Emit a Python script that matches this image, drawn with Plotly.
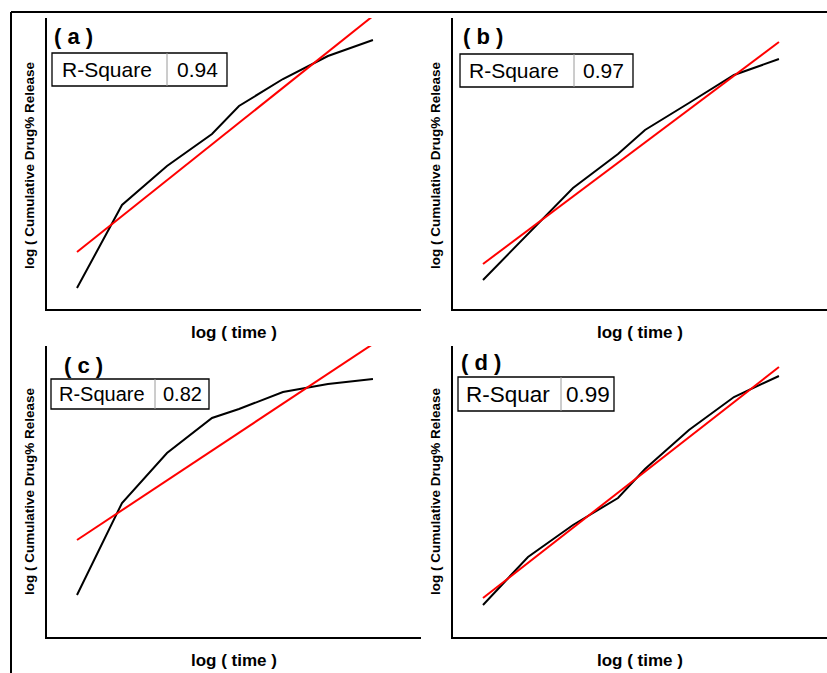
import plotly.graph_objects as go

# ---------------- data (arbitrary log units) ----------------
log_time = [0.0, 0.30, 0.60, 0.90, 1.08, 1.373, 1.673, 1.973]

release_a = [0.21, 1.04, 1.43, 1.75, 2.03, 2.30, 2.53, 2.69]
release_b = [0.29, 0.75, 1.21, 1.55, 1.79, 2.06, 2.34, 2.50]
release_c = [0.42, 1.34, 1.84, 2.19, 2.28, 2.45, 2.53, 2.58]
release_d = [0.32, 0.80, 1.12, 1.39, 1.68, 2.07, 2.40, 2.61]

fit_x = [0.0, 1.973]
fit_a = [0.57, 2.93]
fit_b = [0.45, 2.67]
fit_c = [0.97, 2.93]
fit_d = [0.39, 2.70]

panel_labels = ["( a )", "( b )", "( c )", "( d )"]
r2_names = ["R-Square", "R-Square", "R-Square", "R-Squar"]
r2_values = ["0.94", "0.97", "0.82", "0.99"]

x_title = "log ( time )"
y_title = "log ( Cumulative Drug% Release"

# ---------------- layout helpers ----------------
W, H = 827, 673


def px(x):
    return x / W


def py(y):
    return 1 - y / H


FONT = "Liberation Sans, Arial, sans-serif"

fig = go.Figure()

series = [release_a, release_b, release_c, release_d]
fits = [fit_a, fit_b, fit_c, fit_d]

# panel geometry in pixels: (left, right, top, bottom)
panels = [(47, 421, 18, 309), (453, 827, 18, 309), (47, 421, 346, 637), (453, 827, 346, 637)]

for i in range(4):
    ax = "" if i == 0 else str(i + 1)
    fig.add_trace(go.Scatter(x=log_time, y=series[i], mode="lines",
                             line=dict(color="black", width=2),
                             xaxis="x" + ax, yaxis="y" + ax, showlegend=False,
                             hoverinfo="skip"))
    fig.add_trace(go.Scatter(x=fit_x, y=fits[i], mode="lines",
                             line=dict(color="#ff0000", width=2),
                             xaxis="x" + ax, yaxis="y" + ax, showlegend=False,
                             hoverinfo="skip"))
    l, r, t, b = panels[i]
    axis_common = dict(showline=True, linecolor="black", linewidth=2,
                       showticklabels=False, ticks="", showgrid=False,
                       zeroline=False, fixedrange=True)
    fig.layout["xaxis" + ax] = go.layout.XAxis(domain=[px(l), min(px(r), 1.0)],
                                               range=[-0.2, 2.2933],
                                               anchor="y" + ax, **axis_common)
    fig.layout["yaxis" + ax] = go.layout.YAxis(domain=[py(b), py(t)],
                                               range=[0, 2.91],
                                               anchor="x" + ax, **axis_common)

annotations = []
shapes = []

# panel labels
label_pos = [(52, 36), (461, 36), (62, 366), (459, 362)]
# R-square boxes: (left, right, top, bottom, divider)
boxes = [(52, 227, 53, 86, 167), (460, 633, 54, 87, 574),
         (51, 209, 379, 409, 155), (458, 614, 377, 411, 561)]
box_font = [21, 21, 20, 22.5]
box_pad = [8, 7, 6, 6]
xt_pos = [(234, 332), (640, 332), (234, 660), (640, 660)]
yt_pos = [(29, 165), (435, 165), (29, 491), (435, 491)]

for i in range(4):
    lx, ly = label_pos[i]
    annotations.append(dict(text="<b>%s</b>" % panel_labels[i], x=px(lx), y=py(ly),
                            xref="paper", yref="paper", xanchor="left", yanchor="middle",
                            showarrow=False, font=dict(family=FONT, size=22, color="black")))
    bl, br, bt, bb, bd = boxes[i]
    shapes.append(dict(type="rect", xref="paper", yref="paper",
                       x0=px(bl), x1=px(br), y0=py(bb), y1=py(bt),
                       line=dict(color="black", width=1.3), fillcolor="white"))
    shapes.append(dict(type="line", xref="paper", yref="paper",
                       x0=px(bd), x1=px(bd), y0=py(bb), y1=py(bt),
                       line=dict(color="#9a9a9a", width=1)))
    annotations.append(dict(text=r2_names[i], x=px(bl + box_pad[i]), y=py((bt + bb) / 2),
                            xref="paper", yref="paper", xanchor="left", yanchor="middle",
                            showarrow=False, font=dict(family=FONT, size=box_font[i], color="black")))
    annotations.append(dict(text=r2_values[i], x=px((bd + br) / 2), y=py((bt + bb) / 2),
                            xref="paper", yref="paper", xanchor="center", yanchor="middle",
                            showarrow=False, font=dict(family=FONT, size=box_font[i], color="black")))
    xx, xy = xt_pos[i]
    annotations.append(dict(text="<b>%s</b>" % x_title, x=px(xx), y=py(xy),
                            xref="paper", yref="paper", xanchor="center", yanchor="middle",
                            showarrow=False, font=dict(family=FONT, size=17, color="black")))
    yx, yy = yt_pos[i]
    annotations.append(dict(text="<b>%s</b>" % y_title, x=px(yx), y=py(yy),
                            xref="paper", yref="paper", xanchor="center", yanchor="middle",
                            textangle=-90, showarrow=False,
                            font=dict(family=FONT, size=13.5, color="black")))

# outer frame (top and left)
shapes.append(dict(type="line", xref="paper", yref="paper",
                   x0=px(11), x1=1.0, y0=py(12), y1=py(12),
                   line=dict(color="black", width=2)))
shapes.append(dict(type="line", xref="paper", yref="paper",
                   x0=px(11), x1=px(11), y0=py(12), y1=0,
                   line=dict(color="black", width=2)))

fig.update_layout(width=W, height=H, margin=dict(l=0, r=0, t=0, b=0),
                  paper_bgcolor="white", plot_bgcolor="white",
                  annotations=annotations, shapes=shapes,
                  font=dict(family=FONT))

fig.write_html("out.html", config={"displayModeBar": False},
               post_script="document.body.style.margin='0';document.body.style.overflow='hidden';")
